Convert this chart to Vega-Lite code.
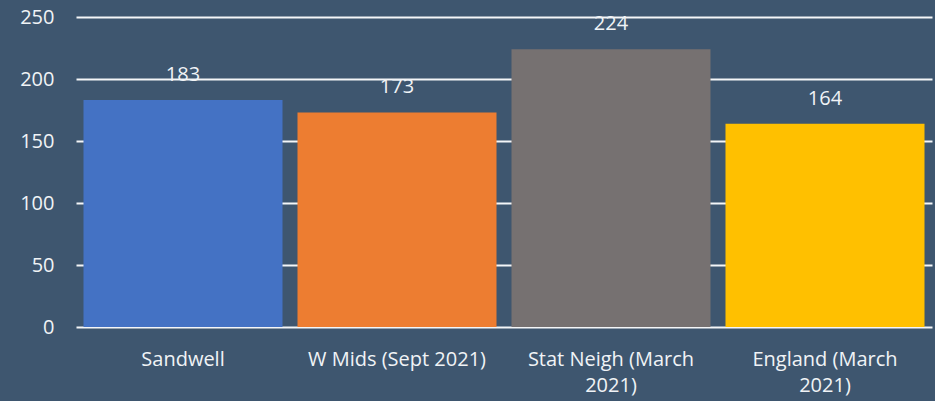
{
  "$schema": "https://vega.github.io/schema/vega-lite/v6.json",
  "autosize": "none",
  "width": 856,
  "height": 310,
  "padding": {"left": 76, "top": 17, "right": 3, "bottom": 74},
  "background": "#3E566F",
  "config": {
    "view": {"stroke": null},
    "font": "Open Sans"
  },
  "data": {
    "values": [
      {"area": "Sandwell", "value": 183},
      {"area": "W Mids (Sept 2021)", "value": 173},
      {"area": "Stat Neigh (March 2021)", "value": 224},
      {"area": "England (March 2021)", "value": 164}
    ]
  },
  "encoding": {
    "x": {
      "field": "area",
      "type": "nominal",
      "sort": null,
      "scale": {"paddingInner": 0.07, "paddingOuter": 0.035},
      "axis": {
        "title": null,
        "labelAngle": 0,
        "labelColor": "#F0F3F6",
        "labelFontSize": 20,
        "labelPadding": 22,
        "labelLineHeight": 26,
        "labelBaseline": "top",
        "ticks": false,
        "domain": false,
        "labelExpr": "datum.label == 'Stat Neigh (March 2021)' ? ['Stat Neigh (March', '2021)'] : datum.label == 'England (March 2021)' ? ['England (March', '2021)'] : datum.label"
      }
    },
    "y": {
      "field": "value",
      "type": "quantitative",
      "scale": {"domain": [0, 250]},
      "axis": {
        "title": null,
        "values": [0, 50, 100, 150, 200, 250],
        "labelColor": "#F0F3F6",
        "labelFontSize": 20,
        "labelPadding": 22,
        "ticks": false,
        "domain": false,
        "gridColor": "#F4F6F8",
        "gridWidth": 2,
        "gridOpacity": 1
      }
    }
  },
  "layer": [
    {
      "mark": {"type": "bar"},
      "encoding": {
        "color": {
          "field": "area",
          "type": "nominal",
          "sort": null,
          "scale": {"range": ["#4472C4", "#ED7D31", "#767171", "#FFC000"]},
          "legend": null
        }
      }
    },
    {
      "mark": {"type": "text", "baseline": "middle", "dy": -25, "color": "#F0F3F6", "fontSize": 20},
      "encoding": {"text": {"field": "value", "type": "quantitative"}}
    }
  ]
}
